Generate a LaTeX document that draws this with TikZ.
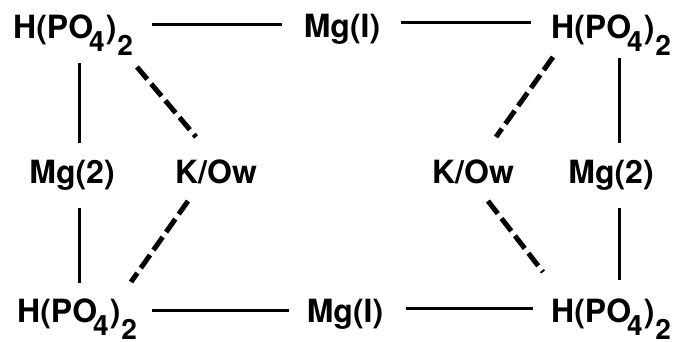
\documentclass[tikz,border=0pt]{standalone}
\usepackage{fontspec}
\setmainfont{TeX Gyre Heros}
\usetikzlibrary{calc}
\newcommand{\hpo}{H(PO\kern-4pt\raisebox{-13pt}{\fontsize{28}{28}\selectfont 4}\kern1pt)\kern1pt\raisebox{-17pt}{\fontsize{28}{28}\selectfont 2}}
\tikzset{
  lbl/.style={inner sep=0pt, font=\fontsize{32}{32}\selectfont\bfseries},
  bond/.style={line width=3pt},
  hbond/.style={line width=5pt, dash pattern=on 16pt off 6pt},
}
\begin{document}
\begin{tikzpicture}[x=1pt,y=-1pt]
\useasboundingbox (0,0) rectangle (676,341);
% nodes
\node[lbl, anchor=base west] (htl) at (13,38) {\hpo};
\node[lbl, anchor=base] (mgt) at (342,37) {Mg(I)};
\node[lbl, anchor=base west] (htr) at (551,38) {\hpo};
\node[lbl, anchor=base] (mgl) at (72,183) {Mg(2)};
\node[lbl, anchor=base] (kl) at (216,183) {K/Ow};
\node[lbl, anchor=base] (kr) at (473,183) {K/Ow};
\node[lbl, anchor=base] (mgr) at (611,183) {Mg(2)};
\node[lbl, anchor=base west] (hbl) at (17,322) {\hpo};
\node[lbl, anchor=base] (mgb) at (345,322) {Mg(I)};
\node[lbl, anchor=base west] (hbr) at (551,322) {\hpo};
% solid bonds
\draw[bond] ($(htl.base west)+(139,-14)$) -- ($(mgt.base)+(-60,-13)$);
\draw[bond] ($(mgt.base)+(59,-15)$) -- ($(htr.base west)+(-20,-16)$);
\draw[bond] ($(hbl.base west)+(135,-12)$) -- ($(mgb.base)+(-56,-12)$);
\draw[bond] ($(mgb.base)+(61,-14)$) -- ($(hbr.base west)+(-18,-14)$);
\draw[bond] ($(htl.base west)+(66,25)$) -- ($(mgl.base)+(7,-40)$);
\draw[bond] ($(mgl.base)+(7,25)$) -- ($(hbl.base west)+(62,-39)$);
\draw[bond] ($(htr.base west)+(68,20)$) -- ($(mgr.base)+(8,-40)$);
\draw[bond] ($(mgr.base)+(8,25)$) -- ($(hbr.base west)+(68,-42)$);
% dashed bonds
\draw[hbond] ($(htl.base west)+(124,29)$) -- ($(kl.base)+(-20,-46)$);
\draw[hbond] ($(kl.base)+(-28,18)$) -- ($(hbl.base west)+(114,-40)$);
\draw[hbond] ($(htr.base west)+(2,19)$) -- ($(kr.base)+(23,-46)$);
\draw[hbond] ($(kr.base)+(15,18)$) -- ($(hbr.base west)+(-8,-50)$);
\end{tikzpicture}
\end{document}
